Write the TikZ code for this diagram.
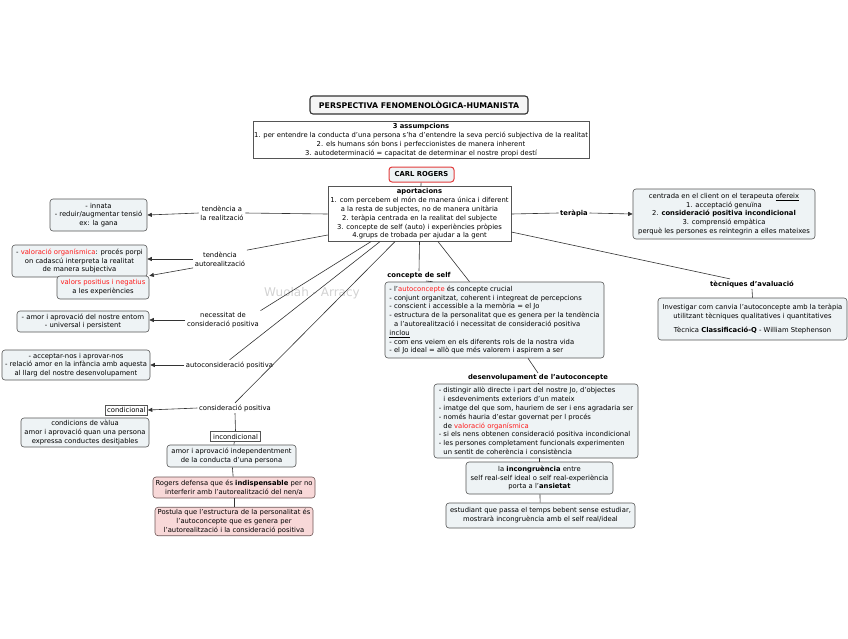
\documentclass[tikz,border=0pt]{standalone}
\usepackage{fontspec}
\setmainfont{DejaVu Sans}
\usetikzlibrary{arrows.meta}
\definecolor{boxfill}{HTML}{EEF3F5}
\definecolor{boxline}{HTML}{555555}
\definecolor{pinkfill}{HTML}{F8D8D8}
\definecolor{pinkline}{HTML}{6E5555}
\definecolor{rogred}{HTML}{E23B3B}
\definecolor{hired}{HTML}{FF1A1A}

\begin{document}
\begin{tikzpicture}[x=1pt,y=-1pt,
    every node/.style={font=\fontsize{6.8}{8.8}\selectfont,inner sep=2pt},
    dims/.style 2 args={minimum width=#1,minimum height=#2},
    concept/.style={draw=boxline,fill=boxfill,rounded corners=3pt,align=center,line width=0.6pt},
    listbox/.style={concept,align=left,inner xsep=1pt},
    pinkbox/.style={concept,fill=pinkfill,draw=pinkline},
    plainbox/.style={draw=boxline,fill=white,align=center,line width=0.6pt},
    link/.style={fill=white,align=center,inner sep=1.5pt},
    conn/.style={draw=black!80,line width=0.6pt},
    tip/.style={conn,-{Triangle[length=4.5pt,width=4pt]}}]

  \useasboundingbox (0,0) rectangle (848,638);

  \node[gray!35,font=\fontsize{12}{12}\selectfont] (mark) at (312,293) {Wuolah - Arracy};

  \node[concept,dims={218pt}{18pt},draw=black!80,fill=gray!8,line width=1.1pt,font=\fontsize{7.8}{9}\bfseries] (title) at (419,105)
    {PERSPECTIVA FENOMENOLÒGICA-HUMANISTA};
  \node[plainbox,dims={336pt}{36pt},inner xsep=1pt] (assump) at (421,140)
    {\textbf{3 assumpcions}\\
     1. per entendre la conducta d'una persona s'ha d'entendre la seva perció subjectiva de la realitat\\
     2. els humans són bons i perfeccionistes de manera inherent\\
     3. autodeterminació = capacitat de determinar el nostre propi destí};
  \node[concept,dims={65pt}{15pt},draw=rogred,line width=1pt,font=\fontsize{6.8}{8.8}\bfseries] (rogers) at (421.5,174.5) {CARL ROGERS};
  \node[plainbox,dims={183pt}{54pt},inner xsep=1pt] (aport) at (419.5,214)
    {\textbf{aportacions}\\
     1. com percebem el món de manera única i diferent\\
     a la resta de subjectes, no de manera unitària\\
     2. teràpia centrada en la realitat del subjecte\\
     3. concepte de self (auto) i experiències pròpies\\
     4.grups de trobada per ajudar a la gent};

  % branques de l'esquerra
  \node[concept,dims={97pt}{32pt}] (innata) at (98.5,215)
    {- innata\\ - reduir/augmentar tensió\\ ex: la gana};
  \node[concept,dims={135pt}{32pt},inner xsep=1pt] (valorg) at (79.5,261)
    {- \textcolor{hired}{valoració organísmica}: procés porpi\\
     on cadascú interpreta la realitat\\ de manera subjectiva};
  \node[concept,dims={92pt}{23pt},inner xsep=1pt] (valpos) at (103,287.5)
    {\textcolor{hired}{valors positius i negatius}\\ a les experiències};
  \node[concept,dims={132pt}{21pt},inner xsep=1pt] (entorn) at (83,321.5)
    {- amor i aprovació del nostre entorn\\ - universal i persistent};
  \node[concept,dims={148pt}{30pt},inner xsep=1pt] (acceptar) at (76,365)
    {- acceptar-nos i aprovar-nos\\
     - relació amor en la infància amb aquesta\\
     al llarg del nostre desenvolupament};
  \node[plainbox,dims={42pt}{10pt},inner sep=1pt] (condic) at (126.5,410) {condicional};
  \node[concept,dims={128pt}{29pt},inner xsep=1pt] (valua) at (85,432.5)
    {condicions de vàlua\\ amor i aprovació quan una persona\\ expressa conductes desitjables};
  \node[plainbox,dims={50pt}{10pt},inner sep=1pt] (incondic) at (235.5,436.5) {incondicional};
  \node[concept,dims={129pt}{22pt},inner xsep=1pt] (indep) at (231.5,456)
    {amor i aprovació independentment\\ de la conducta d'una persona};
  \node[pinkbox,dims={162pt}{21pt},inner xsep=1pt] (defensa) at (234,487.5)
    {Rogers defensa que és \textbf{indispensable} per no\\
     interferir amb l'autorealització del nen/a};
  \node[pinkbox,dims={158pt}{27pt},inner xsep=1pt] (postula) at (234,521.5)
    {Postula que l'estructura de la personalitat és\\
     l'autoconcepte que es genera per\\
     l'autorealització i la consideració positiva};

  \node[link] (tendrea) at (222,213) {tendència a\\ la realització};
  \node[link] (tendauto) at (220,259) {tendència\\ autorealització};
  \node[link] (necess) at (223,320) {necessitat de\\ consideració positiva};
  \node[link] (autocons) at (229.5,365) {autoconsideració positiva};
  \node[link] (conspos) at (235,408) {consideració positiva};

  % branques de la dreta
  \node[concept,dims={182pt}{50pt},inner xsep=1pt] (terbox) at (724,214)
    {centrada en el client on el terapeuta \underline{ofereix}\\
     1. acceptació genuïna\\
     2. \textbf{consideració positiva incondicional}\\
     3. comprensió empàtica\\
     perquè les persones es reintegrin a elles mateixes};
  \node[link,font=\fontsize{6.8}{8.8}\bfseries] (terapia) at (574,213) {teràpia};
  \node[link,font=\fontsize{6.8}{8.8}\bfseries] (tecn) at (752,284) {tècniques d'avaluació};
  \node[concept,dims={189pt}{42pt},inner xsep=1pt] (tecbox) at (752.5,319)
    {Investigar com canvia l'autoconcepte amb la teràpia\\
     utilitzant tècniques qualitatives i quantitatives\\[5pt]
     Tècnica \textbf{Classificació-Q} - William Stephenson};

  % concepte de self
  \node[link,font=\fontsize{6.8}{8.8}\bfseries] (conlab) at (419,276) {concepte de self};
  \node[listbox,dims={219pt}{76pt}] (conbox) at (494.5,320)
    {- l'\textcolor{hired}{autoconcepte} és concepte crucial\\
     - conjunt organitzat, coherent i integreat de percepcions\\
     - conscient i accessible a la memòria = el Jo\\
     - estructura de la personalitat que es genera per la tendència\\
     \hphantom{- }a l'autorealització i necessitat de consideració positiva\\
     \underline{inclou}\\
     - com ens veiem en els diferents rols de la nostra vida\\
     - el Jo ideal = allò que més valorem i aspirem a ser};
  \node[link,font=\fontsize{6.8}{8.8}\bfseries] (desenlab) at (538,378) {desenvolupament de l'autoconcepte};
  \node[listbox,dims={204pt}{74pt}] (desbox) at (536,421)
    {- distingir allò directe i part del nostre Jo, d'objectes\\
     \hphantom{- }i esdeveniments exteriors d'un mateix\\
     - imatge del que som, hauriem de ser i ens agradaria ser\\
     - només hauria d'estar governat per l procés\\
     \hphantom{- }de \textcolor{hired}{valoració organísmica}\\
     - si els nens obtenen consideració positiva incondicional\\
     - les persones completament funcionals experimenten\\
     \hphantom{- }un sentit de coherència i consistència};
  \node[concept,dims={147pt}{32pt},inner xsep=1pt] (incong) at (539.5,478)
    {la \textbf{incongruència} entre\\
     self real-self ideal o self real-experiència\\
     porta a l'\textbf{ansietat}};
  \node[concept,dims={189pt}{25pt},inner xsep=1pt] (estud) at (540.5,515.5)
    {estudiant que passa el temps bebent sense estudiar,\\
     mostrarà incongruència amb el self real/ideal};

  % connectors
  \draw[conn] (rogers) -- (aport);
  \draw[conn] (aport.west) -- (tendrea.east);
  \draw[tip] (tendrea.west) -- (innata.east);
  \draw[conn] ([yshift=-21pt]aport.west) -- (tendauto.north east);
  \draw[tip] (tendauto.west) -- (valorg.east |- tendauto.west);
  \draw[tip] (tendauto.south west) -- (valpos.north east);
  \draw[conn] ([xshift=-48.5pt]aport.south) -- (necess.north east);
  \draw[tip] (necess.west) -- (entorn.east |- necess.west);
  \draw[conn] ([xshift=-39.5pt]aport.south) -- (autocons.north);
  \draw[tip] (autocons.west) -- (acceptar.east);
  \draw[conn] ([xshift=-24.5pt]aport.south) -- (conspos.north);
  \draw[tip] (conspos.west) -- (condic.east);
  \draw[conn] (conspos.south) -- (incondic.north);
  \draw[conn] (incondic) -- (indep);
  \draw[conn] (indep) -- (defensa);
  \draw[conn] (defensa) -- (postula);

  \draw[conn] (aport.east) -- (terapia.west);
  \draw[tip] (terapia.east) -- (terbox.west);
  \draw[conn] ([yshift=-18pt]aport.east) -- ([xshift=-22pt]tecn.north);
  \draw[conn] (tecn.south) -- (tecbox.north);

  \draw[conn] (aport.south) -- (conlab.north);
  \draw[conn] ([xshift=7pt]conlab.south) -- ([xshift=-62pt]conbox.north);
  \draw[conn] ([xshift=18.5pt]aport.south) -- ([xshift=-25pt]conbox.north);
  \draw[conn] ([xshift=33.5pt]conbox.south) -- (desenlab.north);
  \draw[conn] (desenlab.south) -- ([xshift=2pt]desbox.north);
  \draw[conn] ([xshift=3.5pt]desbox.south) -- (incong.north);
  \draw[conn] (incong) -- (estud);
\end{tikzpicture}
\end{document}
